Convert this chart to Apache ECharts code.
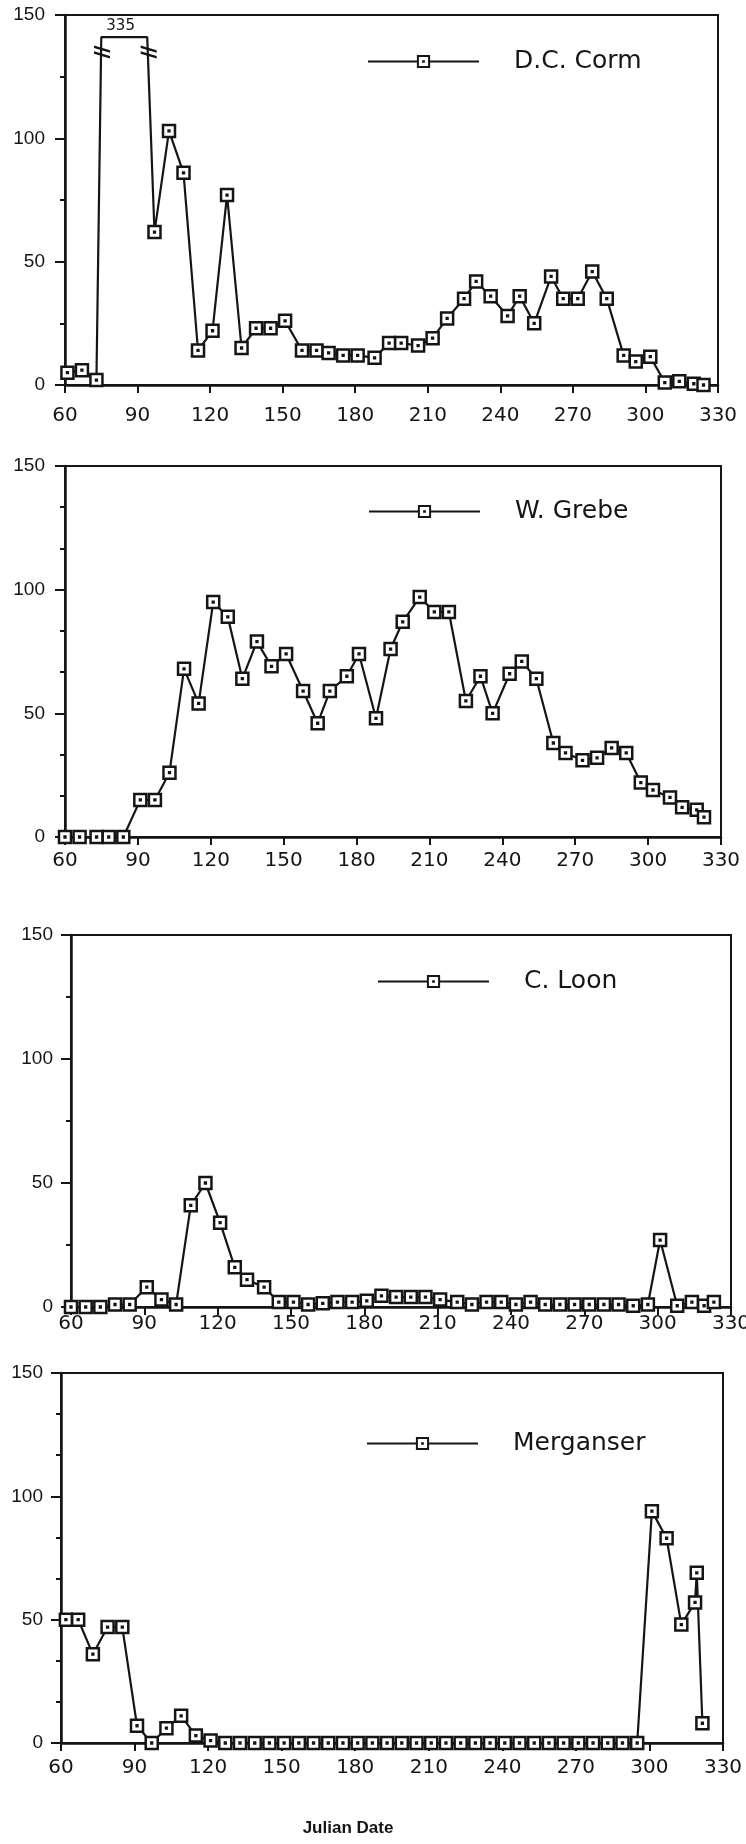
<!DOCTYPE html>
<html><head><meta charset="utf-8">
<script src="https://cdn.jsdelivr.net/npm/echarts@6/dist/echarts.min.js"></script>
<style>html,body{margin:0;padding:0;background:#fff}#c{width:746px;height:1844px}</style>
</head><body><div id="c"></div>
<script>
// ---- tick labels ----
const xTickLabels = [60, 90, 120, 150, 180, 210, 240, 270, 300, 330];
const yTickLabels = [0, 50, 100, 150];

// ---- D.C. Corm (two off-scale observations at 335) ----
const cormDays = [61, 67, 73, 75, 94, 97, 103, 109, 115, 121, 127, 133, 139, 145, 151, 158, 164, 169, 175, 181, 188, 194, 199, 206, 212, 218, 225, 230, 236, 243, 248, 254, 261, 266, 272, 278, 284, 291, 296, 302, 308, 314, 320, 324];
const cormValues = [5, 6, 2, 335, 335, 62, 103, 86, 14, 22, 77, 15, 23, 23, 26, 14, 14, 13, 12, 12, 11, 17, 17, 16, 19, 27, 35, 42, 36, 28, 36, 25, 44, 35, 35, 46, 35, 12, 9.5, 11.5, 1, 1.5, 0.5, 0];

// ---- W. Grebe ----
const grebeDays = [60, 66, 73, 78, 84, 91, 97, 103, 109, 115, 121, 127, 133, 139, 145, 151, 158, 164, 169, 176, 181, 188, 194, 199, 206, 212, 218, 225, 231, 236, 243, 248, 254, 261, 266, 273, 279, 285, 291, 297, 302, 309, 314, 320, 323];
const grebeValues = [0, 0, 0, 0, 0, 15, 15, 26, 68, 54, 95, 89, 64, 79, 69, 74, 59, 46, 59, 65, 74, 48, 76, 87, 97, 91, 91, 55, 65, 50, 66, 71, 64, 38, 34, 31, 32, 36, 34, 22, 19, 16, 12, 11, 8];

// ---- C. Loon ----
const loonDays = [60, 66, 72, 78, 84, 91, 97, 103, 109, 115, 121, 127, 132, 139, 145, 151, 157, 163, 169, 175, 181, 187, 193, 199, 205, 211, 218, 224, 230, 236, 242, 248, 254, 260, 266, 272, 278, 284, 290, 296, 301, 308, 314, 319, 323];
const loonValues = [0, 0, 0, 1, 1, 8, 3, 1, 41, 50, 34, 16, 11, 8, 2, 2, 1, 1.5, 2, 2, 2.5, 4.5, 4, 4, 4, 3, 2, 1, 2, 2, 1, 2, 1, 1, 1, 1, 1, 1, 0.5, 1, 27, 0.5, 2, 0.5, 2];

// ---- Merganser ----
const mergDays = [62, 67, 73, 79, 85, 91, 97, 103, 109, 115, 121, 127, 133, 139, 145, 151, 157, 163, 169, 175, 181, 187, 193, 199, 205, 211, 217, 223, 229, 235, 241, 247, 253, 259, 265, 271, 277, 283, 289, 295, 301, 307, 313, 318.6, 319.3, 321.6];
const mergValues = [50, 50, 36, 47, 47, 7, 0, 6, 11, 3, 1, 0, 0, 0, 0, 0, 0, 0, 0, 0, 0, 0, 0, 0, 0, 0, 0, 0, 0, 0, 0, 0, 0, 0, 0, 0, 0, 0, 0, 0, 94, 83, 48, 57, 69, 8];

const seriesNames = ['D.C. Corm', 'W. Grebe', 'C. Loon', 'Merganser'];

const INK = '#151515';
const CAP = 141; // level at which off-scale values are drawn (broken axis)
const markerPath = 'path://M0,0H12V12H0Z M5.6,5.6H6.4V6.4H5.6Z';
const breakPath = 'path://M0,0L16,5L16,7.5L0,2.5Z M0,6L16,11L16,13.5L0,8.5Z';

const grids = [
  {left: 65, right: 28, top: 15, height: 370},
  {left: 65, right: 25, top: 466, height: 371},
  {left: 71, right: 15, top: 935, height: 372},
  {left: 61, right: 23, top: 1373, height: 370}
];
const minorSplits = [2, 3, 2, 3];
const yLabelMargins = [20, 20, 18, 18];
const xLabelMargins = [21, 14, 7, 15];
const legendPos = [
  {left: 362, top: 44},
  {left: 363, top: 494},
  {left: 372, top: 964},
  {left: 361, top: 1426}
];

function buildData(days, vals) {
  return days.map((d, i) => {
    const v = vals[i];
    if (v > 150) return {value: [d, CAP], symbol: 'none'};
    return {value: [d, v]};
  });
}

const dataSets = [
  buildData(cormDays, cormValues),
  buildData(grebeDays, grebeValues),
  buildData(loonDays, loonValues),
  buildData(mergDays, mergValues)
];

const option = {
  backgroundColor: '#fff',
  animation: false,
  grid: grids.map(g => Object.assign({show: true, borderColor: INK, borderWidth: 2, outerBoundsMode: 'none', containLabel: false}, g)),
  xAxis: grids.map((g, i) => ({
    type: 'value', gridIndex: i,
    min: xTickLabels[0], max: xTickLabels[xTickLabels.length - 1], interval: 30,
    axisLine: {show: true, onZero: false, lineStyle: {color: INK, width: 2.5}},
    axisTick: {show: true, length: 8, inside: false, lineStyle: {color: INK, width: 2}},
    axisLabel: {show: true, margin: xLabelMargins[i], color: INK, fontFamily: 'DejaVu Sans', fontSize: 20, showMinLabel: true, showMaxLabel: true, hideOverlap: false},
    splitLine: {show: false}
  })),
  yAxis: grids.map((g, i) => ({
    type: 'value', gridIndex: i,
    min: yTickLabels[0], max: yTickLabels[yTickLabels.length - 1], interval: 50,
    axisLine: {show: true, lineStyle: {color: INK, width: 2.5}},
    axisTick: {show: true, length: 10, inside: false, lineStyle: {color: INK, width: 2}},
    minorTick: {show: true, splitNumber: minorSplits[i], length: 5, lineStyle: {color: INK, width: 2}},
    axisLabel: {show: true, margin: yLabelMargins[i], color: INK, fontFamily: 'Liberation Sans', fontSize: 19},
    splitLine: {show: false}
  })),
  legend: seriesNames.map((n, i) => ({
    data: [n],
    left: legendPos[i].left, top: legendPos[i].top,
    itemWidth: 111, itemHeight: 14,
    selectedMode: false,
    textStyle: {fontFamily: 'DejaVu Sans', fontSize: 25, color: INK, padding: [0, 0, 0, 30]}
  })),
  title: {
    text: 'Julian Date', left: 343, top: 1815, textAlign: 'center',
    textStyle: {fontFamily: 'Liberation Sans', fontWeight: 'bold', fontSize: 17, color: INK}
  },
  series: seriesNames.map((n, i) => {
    const s = {
      name: n, type: 'line', xAxisIndex: i, yAxisIndex: i,
      data: dataSets[i],
      symbol: markerPath, symbolSize: 12,
      lineStyle: {color: INK, width: 2.2},
      itemStyle: {color: '#fff', borderColor: INK, borderWidth: 2.5},
      emphasis: {disabled: true},
      clip: true, z: 3
    };
    if (i === 0) {
      const offIdx = cormValues.map((v, k) => v > 150 ? k : -1).filter(k => k >= 0);
      const first = cormDays[offIdx[0]], last = cormDays[offIdx[offIdx.length - 1]];
      s.markPoint = {
        silent: true,
        data: [
          {coord: [(first + last) / 2 - 1.5, CAP], symbolSize: 0,
           label: {show: true, position: 'top', distance: 4, formatter: String(cormValues[offIdx[0]]), color: INK, fontFamily: 'DejaVu Sans', fontSize: 15}},
          {coord: [first + 0.3, CAP - 6], symbol: breakPath, symbolSize: [16, 13],
           itemStyle: {color: INK}, label: {show: false}},
          {coord: [last + 0.6, CAP - 6], symbol: breakPath, symbolSize: [16, 13],
           itemStyle: {color: INK}, label: {show: false}}
        ]
      };
    }
    return s;
  })
};

const chart = echarts.init(document.getElementById('c'), null, {renderer: 'canvas'});
chart.setOption(option);
</script>
</body></html>
